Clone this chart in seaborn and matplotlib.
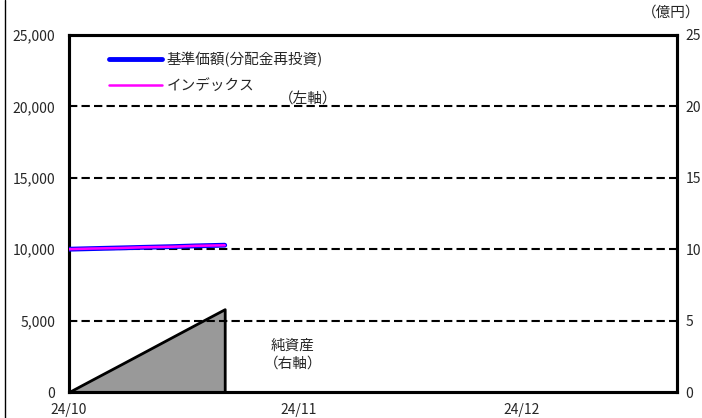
import numpy as np
import pandas as pd
import matplotlib
matplotlib.use("Agg")
import matplotlib.pyplot as plt
from matplotlib.lines import Line2D
import seaborn as sns

sns.set_theme(style="white")
plt.rcParams['font.family'] = ['Noto Sans CJK JP', 'DejaVu Sans']

# data
dates = ["2024-10-01", "2024-10-04", "2024-10-08", "2024-10-11",
         "2024-10-15", "2024-10-18", "2024-10-22"]
nav = [10000, 10040, 10090, 10130, 10180, 10230, 10280]          # 基準価額(分配金再投資)
index_vals = [10000, 10045, 10085, 10135, 10175, 10235, 10275]   # インデックス
net_assets = [0.0, 0.83, 1.93, 2.76, 3.87, 4.70, 5.8]            # 純資産 (億円)

left_ticks = [0, 5000, 10000, 15000, 20000, 25000]
right_ticks = [0, 5, 10, 15, 20, 25]
x_ticks = ["2024-10-01", "2024-11-01", "2024-12-01"]
x_labels = ["24/10", "24/11", "24/12"]

df = pd.DataFrame({"date": pd.to_datetime(dates), "nav": nav,
                   "index": index_vals, "assets": net_assets})

fig = plt.figure(figsize=(7.02, 4.18), dpi=100)
ax = fig.add_axes([69/702, 26/418, 608/702, 357/418])
ax2 = ax.twinx()

# net assets area on the right axis, behind the lines
ax2.fill_between(df["date"], 0, df["assets"], facecolor="#999999",
                 edgecolor="black", linewidth=2, zorder=1)
ax2.set_ylim(0, 25)
ax2.set_yticks(right_ticks)
ax2.set_yticklabels([str(v) for v in right_ticks])
ax2.tick_params(axis="y", length=0, pad=6, labelsize=10)
ax.set_zorder(ax2.get_zorder() + 1)
ax.patch.set_visible(False)

for y in left_ticks[1:-1]:
    ax.axhline(y, color="black", linestyle=(0, (4, 2)), linewidth=1.5, zorder=1)

sns.lineplot(data=df, x="date", y="nav", ax=ax, color="#0000ff",
             linewidth=3.5, label="基準価額(分配金再投資)", zorder=3)
sns.lineplot(data=df, x="date", y="index", ax=ax, color="#ff00ff",
             linewidth=1.8, label="インデックス", zorder=4)

ax.set_xlim(pd.Timestamp("2024-10-01"), pd.Timestamp("2024-12-22"))
ax.set_ylim(0, 25000)
ax.set_yticks(left_ticks)
ax.set_yticklabels([f"{v:,}" for v in left_ticks])
ax.set_xticks(pd.to_datetime(x_ticks))
ax.set_xticklabels(x_labels)
ax.tick_params(axis="y", length=0, pad=10, labelsize=10)
ax.tick_params(axis="x", direction="in", length=4, width=1, pad=8,
               labelsize=10, color="black")
ax.set_xlabel("")
ax.set_ylabel("")
ax2.set_ylabel("")

for a in (ax, ax2):
    for s in a.spines.values():
        s.set_color("black")
        s.set_linewidth(2.2)

leg = ax.legend(loc="upper left", bbox_to_anchor=(0.045, 0.99), frameon=False,
                fontsize=10.5, handlelength=3.6, labelspacing=0.85, handletextpad=0.3)

ax.text(0.393, 0.82, "（左軸）", transform=ax.transAxes, fontsize=10.5,
        ha="center", va="center")
ax.text(0.368, 0.105, "純資産\n（右軸）", transform=ax.transAxes, fontsize=10.5,
        ha="center", va="center", linespacing=1.4)
fig.text(0.997, 0.97, "（億円）", fontsize=10.5, ha="right", va="center")

fig.add_artist(Line2D([4.5/702, 4.5/702], [0, 1], color="black", linewidth=1))

fig.savefig("out.png", dpi=100)
